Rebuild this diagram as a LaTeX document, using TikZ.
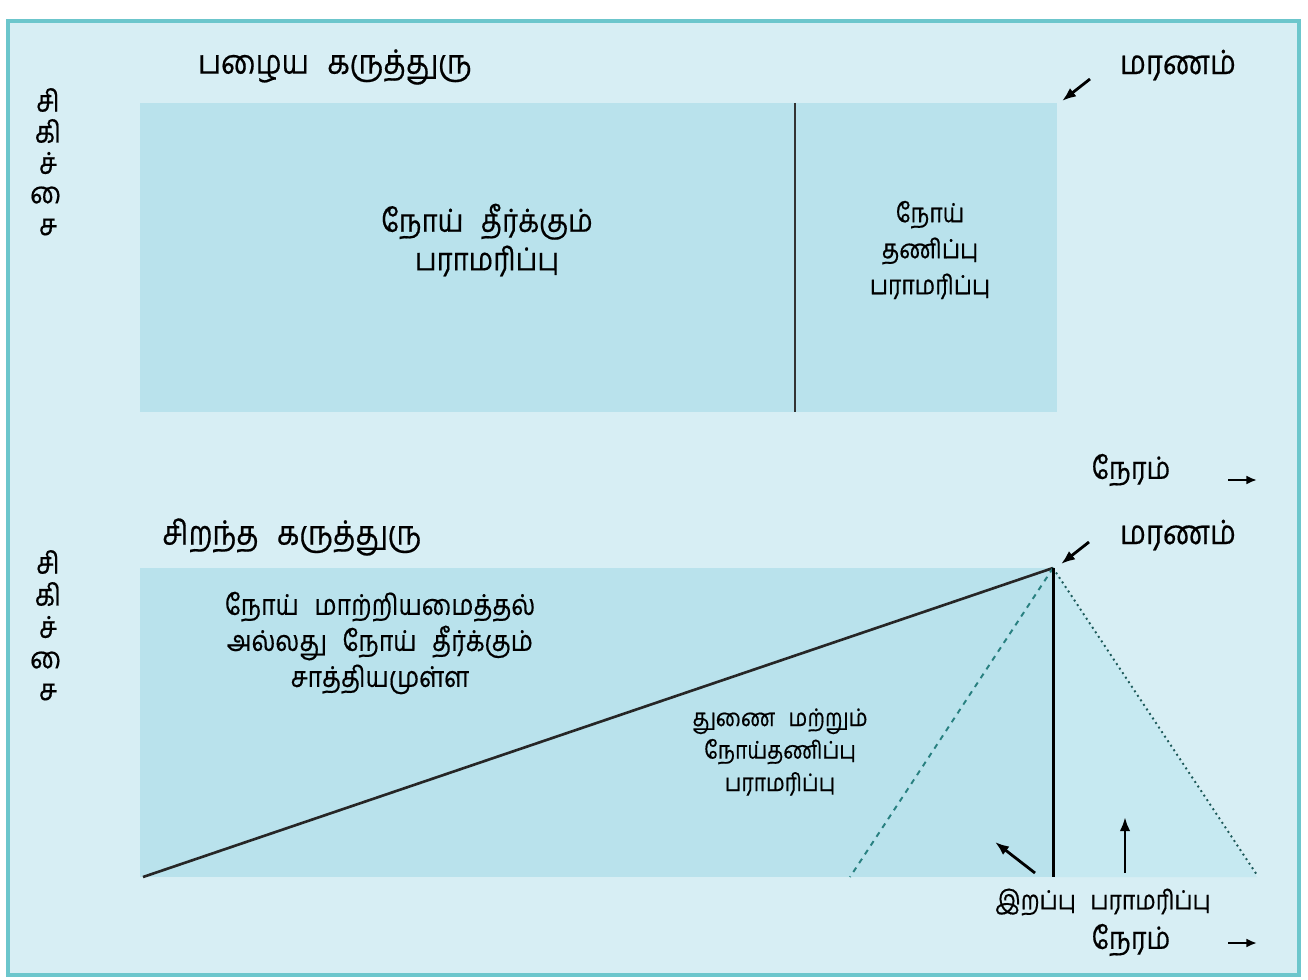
\documentclass[tikz,border=0pt]{standalone}
\usepackage{fontspec}
\newfontfamily\tamil[Script=Tamil, FakeStretch=0.87, FakeBold=0.5]{Hind Madurai}
\newcommand{\aisign}{\XeTeXglyph\XeTeXcharglyph"0BC8\relax}
\newcommand{\gap}{\hspace{0.55em}}
\definecolor{FrameTeal}{RGB}{108,198,204}
\definecolor{PaleCyan}{RGB}{215,238,244}
\definecolor{BoxCyan}{RGB}{185,226,236}
\definecolor{WedgeCyan}{RGB}{198,233,241}
\definecolor{DashTeal}{RGB}{40,128,128}
\usetikzlibrary{arrows.meta, positioning}

\begin{document}
\begin{tikzpicture}[x=0.02cm, y=-0.02cm,
  every node/.style={font=\tamil\fontsize{17}{21}\selectfont, align=center, inner sep=0pt},
  title/.style={font=\tamil\fontsize{19}{23}\selectfont},
  smalltext/.style={font=\tamil\fontsize{15}{20.5}\selectfont},
  tinytext/.style={font=\tamil\fontsize{13.8}{18.5}\selectfont},
  pointer/.style={-{Latex[length=8pt,width=6pt]}, line width=1.6pt},
  timearrow/.style={-{Latex[length=6pt,width=5pt]}, line width=1.6pt}]
\useasboundingbox (0,0) rectangle (1308,980);
% frame and shaded blocks
\draw[FrameTeal, fill=PaleCyan, line width=2pt] (8,21) rectangle (1299,975);
\fill[BoxCyan] (140,103) rectangle (1057,412);
\fill[BoxCyan] (140,568) rectangle (1053,877);
\fill[WedgeCyan] (1053,568) -- (1257,877) -- (1053,877) -- cycle;
% upper panel
\node[title] (oldidea) at (335,67) {பழைய\gap கருத்துரு};
\foreach \t/\y in {சி/100, கி/131, ச்/163, \aisign/195, ச/227} \node at (48,\y) {\t};
\coordinate (divtop) at (795,103);
\coordinate (divbot) at (795,412);
\draw[line width=1.5pt, black!80] (divtop) -- (divbot);
\node[font=\tamil\fontsize{18}{22}\selectfont] (cure) at (487,240) {நோய்\gap தீர்க்கும்\\பராமரிப்பு};
\node[smalltext] (palli) at (930,250) {நோய்\\தணிப்பு\\பராமரிப்பு};
\node[title] (death) at (1178,65) {மரணம்};
\coordinate (dtail) at (1090,79);
\coordinate (dhead) at (1062,101);
\draw[pointer] (dtail) -- (dhead);
\node[font=\tamil\fontsize{17.5}{21}\selectfont] (time) at (1131,470) {நேரம்};
\coordinate (ttail) at (1228,480);
\coordinate (thead) at (1257,480);
\draw[timearrow] (ttail) -- (thead);
% lower panel
\node[title] (bestidea) at (292,537) {சிறந்த\gap கருத்துரு};
\foreach \t/\y in {சி/562, கி/594, ச்/627, \aisign/660, ச/692} \node at (48,\y) {\t};
\coordinate (start) at (143,877);
\coordinate (peak) at (1053,568);
\coordinate (dashend) at (850,877);
\coordinate (dotend) at (1257,875);
\coordinate (linebot) at (1053,877);
\draw[line width=1.5pt, black!85] (start) -- (peak);
\draw[DashTeal, dashed, line width=1.1pt] (peak) -- (dashend);
\draw[DashTeal!70!black, dotted, line width=1.1pt] (peak) -- (dotend);
\draw[line width=1.7pt] (peak) -- (linebot);
\node[font=\tamil\fontsize{16.2}{20.5}\selectfont] (modify) at (380,643) {நோய்\gap மாற்றியமைத்தல்\\அல்லது\gap நோய்\gap தீர்க்கும்\\சாத்தியமுள்ள};
\node[tinytext] (support) at (780,752) {துணை\gap மற்றும்\\நோய்தணிப்பு\\பராமரிப்பு};
\node[title] (deathb) at (1178,535) {மரணம்};
\coordinate (dbtail) at (1089,542);
\coordinate (dbhead) at (1061,564);
\draw[pointer] (dbtail) -- (dbhead);
\node[smalltext] (bereave) at (1103,902) {இறப்பு\gap பராமரிப்பு};
\node[font=\tamil\fontsize{17.5}{21}\selectfont] (timeb) at (1131,940) {நேரம்};
\coordinate (tbtail) at (1228,943);
\coordinate (tbhead) at (1257,943);
\draw[timearrow] (tbtail) -- (tbhead);
\coordinate (ltail) at (1035,873);
\coordinate (lhead) at (995,842);
\draw[pointer] (ltail) -- (lhead);
\coordinate (utail) at (1125,873);
\coordinate (uhead) at (1125,817);
\draw[pointer] (utail) -- (uhead);
\end{tikzpicture}
\end{document}
